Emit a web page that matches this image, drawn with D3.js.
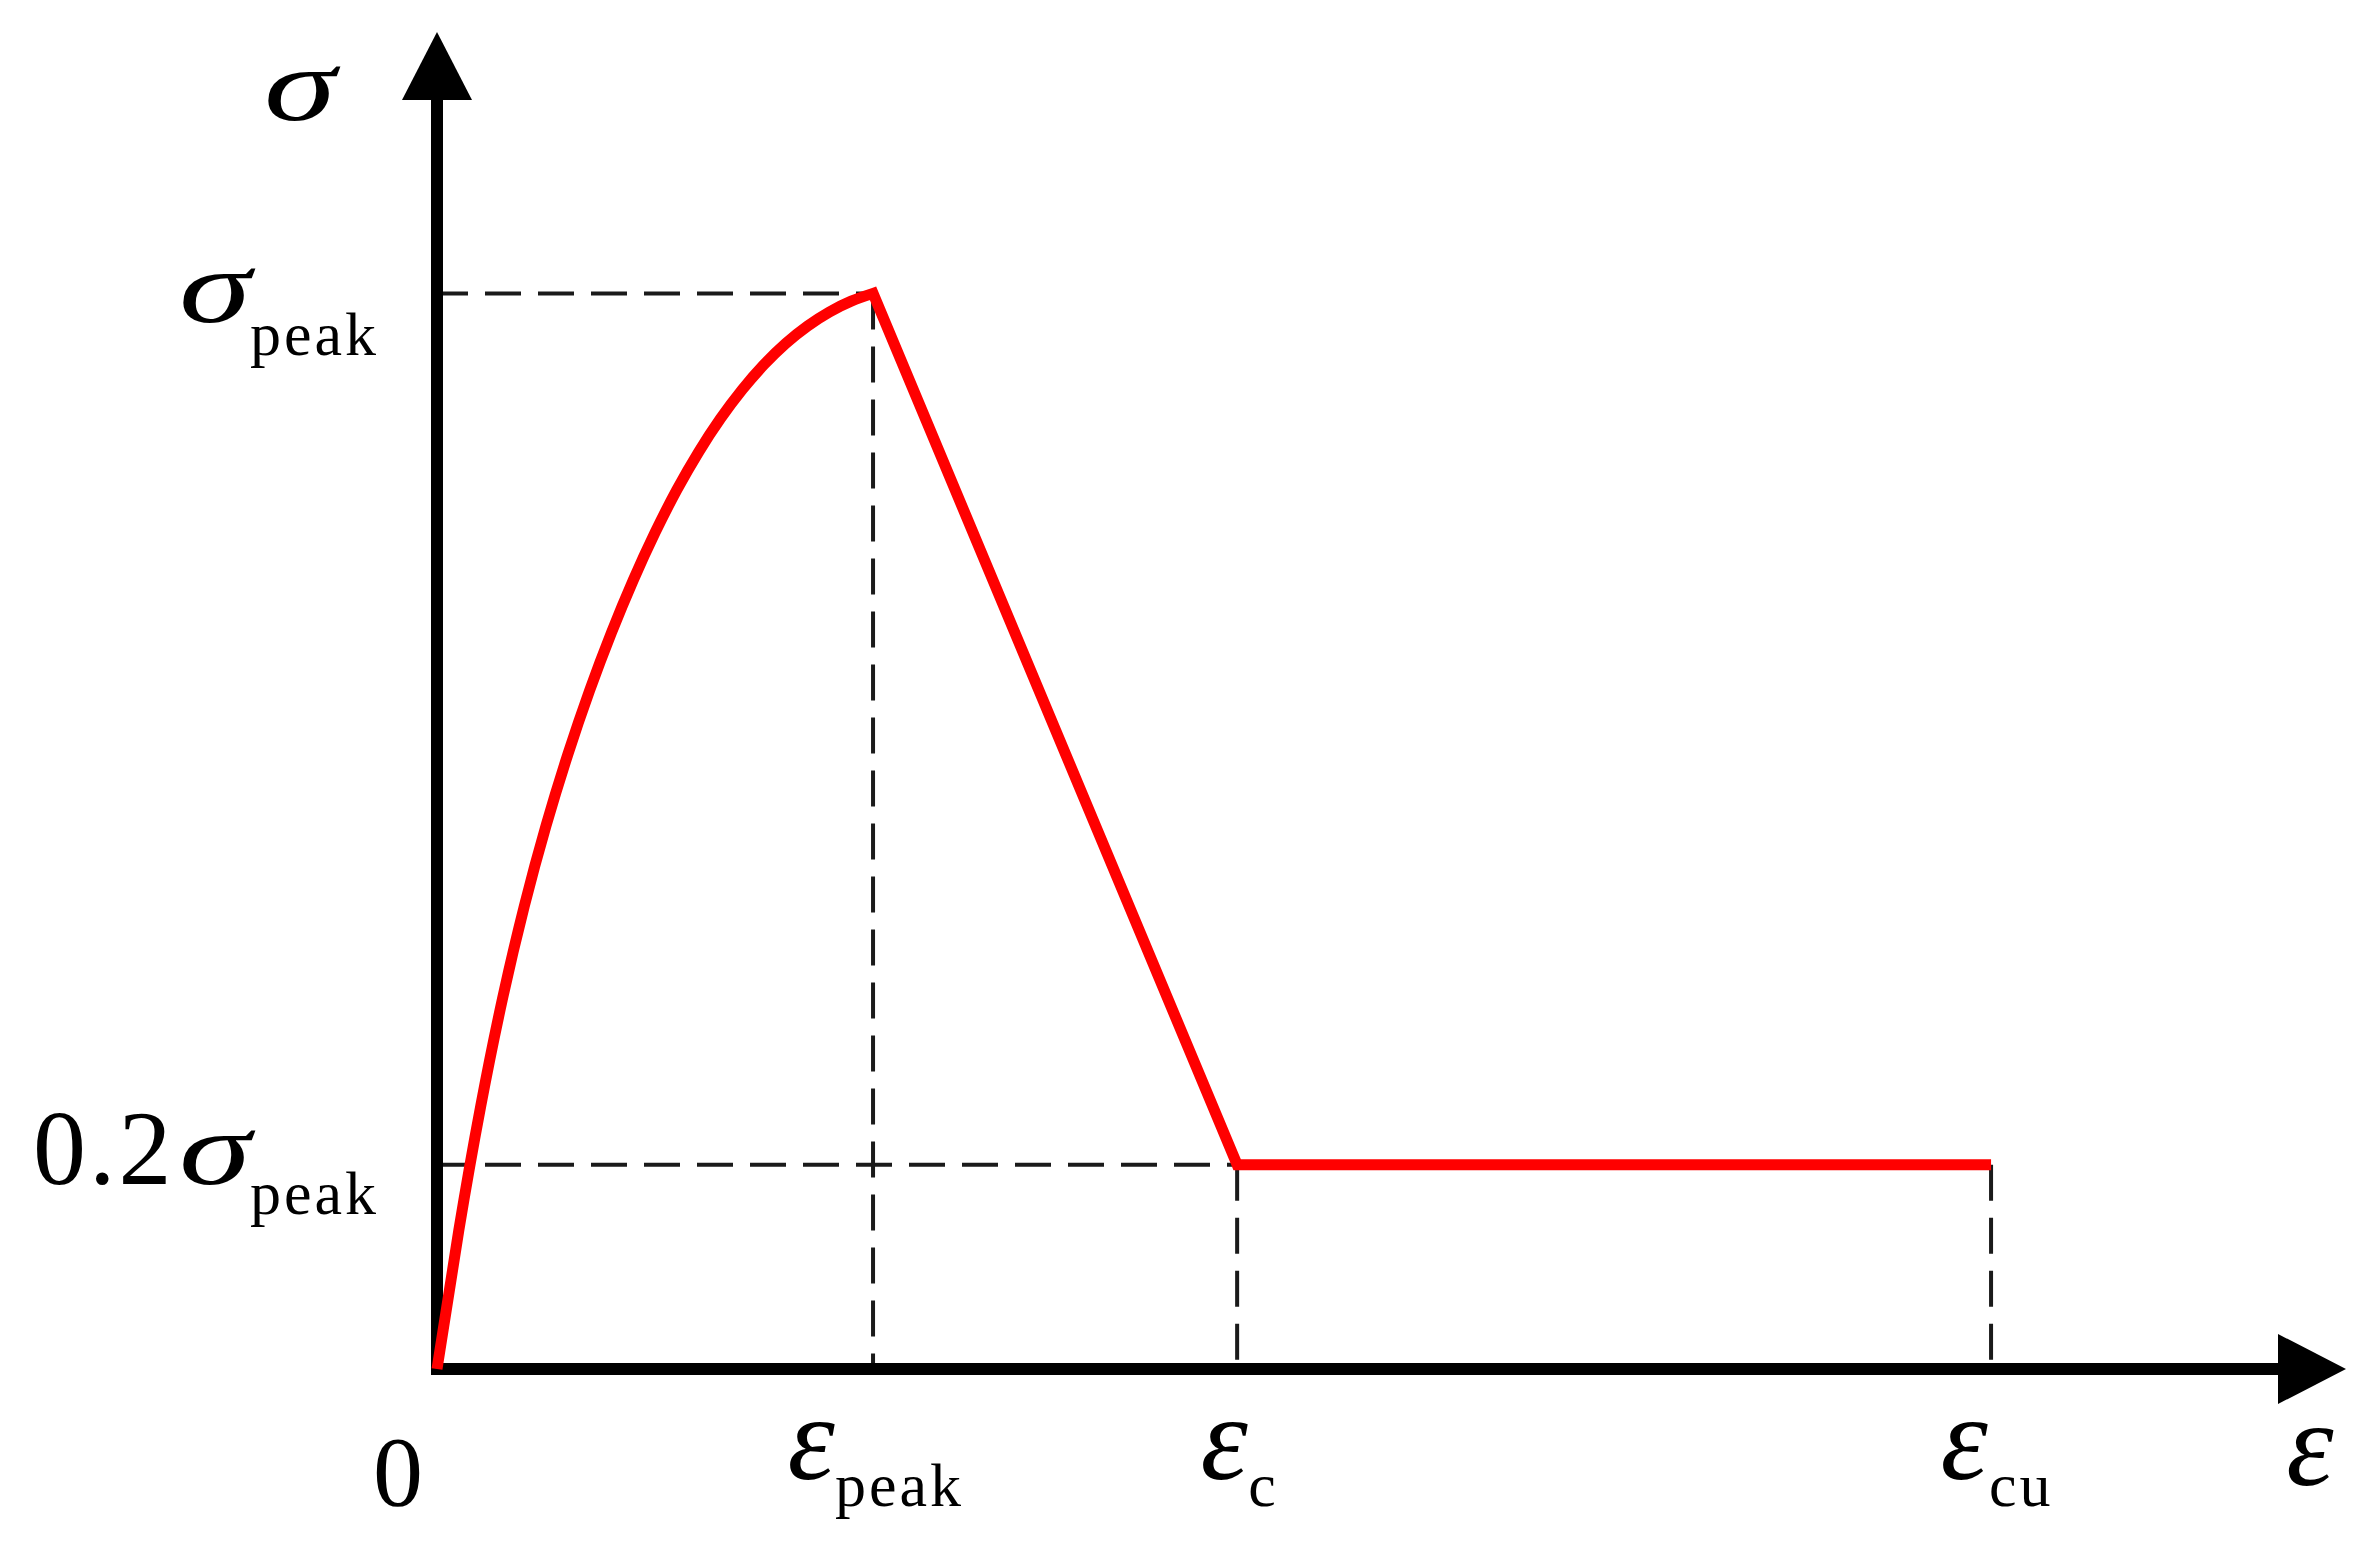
<!DOCTYPE html>
<html>
<head>
<meta charset="utf-8">
<script src="https://cdn.jsdelivr.net/npm/d3@7"></script>
<style>
  html, body { margin: 0; padding: 0; background: #fff; }
  svg { display: block; }
  text { font-family: "Liberation Serif", "Times New Roman", serif; fill: #000; }
</style>
</head>
<body>
<svg id="chart" width="2380" height="1560"></svg>
<script>
// ---------- data (normalised: strain / strain_peak, stress / stress_peak) ----------
const ascendingStrain = [0, 0.05, 0.10, 0.15, 0.20, 0.25, 0.30, 0.35, 0.40, 0.45, 0.50, 0.55, 0.60, 0.65, 0.70, 0.75, 0.80, 0.85, 0.90, 0.95, 1.0];
const ascendingStress = [0, 0.1288, 0.2438, 0.3438, 0.4300, 0.5050, 0.5713, 0.6308, 0.6845, 0.7333, 0.7775, 0.8173, 0.8525, 0.8835, 0.9105, 0.9338, 0.9535, 0.9697, 0.9827, 0.9928, 1.0];
const softeningStrain = [1.0, 1.835, 3.564];
const softeningStress = [1.0, 0.19, 0.19];
const axisMax = [4.378, 1.243];            // arrow tips (strain, stress)
const keyStrains = [0, 1.0, 1.835, 3.564]; // 0, ε_peak, ε_c, ε_cu
const keyStresses = [1.0, 0.19];           // σ_peak, 0.2σ_peak
const xTickMain = ["0", "ε", "ε", "ε"];
const xTickSub = ["", "peak", "c", "cu"];
const yTickPre = ["", "0.2"];
const yTickMain = ["σ", "σ"];
const yTickSub = ["peak", "peak"];
const axisTitles = ["ε", "σ"];

// ---------- scales ----------
const svg = d3.select("#chart");
const x = d3.scaleLinear().domain([0, axisMax[0]]).range([437, 2346]);
const y = d3.scaleLinear().domain([0, axisMax[1]]).range([1369, 32]);

// ---------- dashed guide lines ----------
const guides = svg.append("g").attr("stroke", "#1a1a1a").attr("stroke-width", 4)
  .attr("stroke-dasharray", "36,17").attr("fill", "none");
const hEnds = [keyStrains[1], keyStrains[2]];
keyStresses.forEach((s, i) => {
  guides.append("line").attr("x1", x(0)).attr("x2", x(hEnds[i])).attr("y1", y(s)).attr("y2", y(s))
    .attr("stroke-dashoffset", 5);
});
const vTops = [1.0, 0.19, 0.19];
keyStrains.slice(1).forEach((e, i) => {
  guides.append("line").attr("x1", x(e)).attr("x2", x(e)).attr("y1", y(vTops[i])).attr("y2", y(0));
});

// ---------- axes with arrows ----------
const axisW = 12;
const arrowLen = 68, arrowHalf = 35;
const axes = svg.append("g");
axes.append("line").attr("x1", x(0) - axisW/2).attr("x2", x(axisMax[0]) - arrowLen + 2)
  .attr("y1", y(0)).attr("y2", y(0)).attr("stroke", "#000").attr("stroke-width", axisW);
axes.append("line").attr("x1", x(0)).attr("x2", x(0))
  .attr("y1", y(0) + axisW/2).attr("y2", y(axisMax[1]) + arrowLen - 2)
  .attr("stroke", "#000").attr("stroke-width", axisW);
axes.append("path").attr("fill", "#000").attr("d",
  `M${x(axisMax[0])},${y(0)} L${x(axisMax[0]) - arrowLen},${y(0) - arrowHalf} L${x(axisMax[0]) - arrowLen},${y(0) + arrowHalf} Z`);
axes.append("path").attr("fill", "#000").attr("d",
  `M${x(0)},${y(axisMax[1])} L${x(0) - arrowHalf},${y(axisMax[1]) + arrowLen} L${x(0) + arrowHalf},${y(axisMax[1]) + arrowLen} Z`);

// ---------- stress-strain curve ----------
const asc = ascendingStrain.map((e, i) => [e, ascendingStress[i]]);
const soft = softeningStrain.map((e, i) => [e, softeningStress[i]]);
const curveGen = d3.line().x(d => x(d[0])).y(d => y(d[1])).curve(d3.curveNatural);
const linGen = d3.line().x(d => x(d[0])).y(d => y(d[1]));
const pathD = curveGen(asc) + linGen(soft.slice(1)).replace(/^M/, "L");
svg.append("path").attr("d", pathD).attr("fill", "none").attr("stroke", "#ff0000")
  .attr("stroke-width", 11).attr("stroke-linejoin", "miter").attr("stroke-miterlimit", 10)
  .attr("stroke-linecap", "butt");

// ---------- labels ----------
const sigmaSize = 104, epsSize = 120, numSize = 106, subSize = 62, sigmaStretch = 1.4;
function greek(cx, by, ch, size, stretch) {
  svg.append("text").attr("transform", `translate(${cx},${by}) scale(${stretch},1)`)
    .attr("text-anchor", "middle").attr("font-size", size).attr("font-style", "italic").text(ch);
}
function sub(sx, by, str) {
  svg.append("text").attr("x", sx).attr("y", by).attr("font-size", subSize)
    .attr("letter-spacing", 3).text(str);
}
// y-axis key labels (σ_peak, 0.2σ_peak)
const yLab = [{dy: 29, subDy: 62}, {dy: 19, subDy: 49}];
keyStresses.forEach((s, i) => {
  const by = y(s) + yLab[i].dy;
  if (yTickPre[i]) {
    svg.append("text").attr("x", x(0) - 404).attr("y", by).attr("font-size", numSize)
      .attr("letter-spacing", 3).text(yTickPre[i]);
  }
  greek(x(0) - 222, by, yTickMain[i], sigmaSize, sigmaStretch);
  sub(x(0) - 187, y(s) + yLab[i].subDy, yTickSub[i]);
});
// x-axis key labels
const xLab = [{c: -39}, {c: -62, s: -38}, {c: -13, s: 11}, {c: -27, s: -2}];
keyStrains.forEach((e, i) => {
  if (xTickSub[i] === "") {
    svg.append("text").attr("x", x(e) + xLab[i].c).attr("y", 1505)
      .attr("text-anchor", "middle").attr("font-size", 100).text(xTickMain[i]);
  } else {
    greek(x(e) + xLab[i].c, 1479, xTickMain[i], epsSize, 1);
    sub(x(e) + xLab[i].s, 1506, xTickSub[i]);
  }
});
// axis titles
greek(x(axisMax[0]) - 36, 1485, axisTitles[0], epsSize, 1);
greek(x(0) - 137, 120, axisTitles[1], sigmaSize, sigmaStretch);
</script>
</body>
</html>
